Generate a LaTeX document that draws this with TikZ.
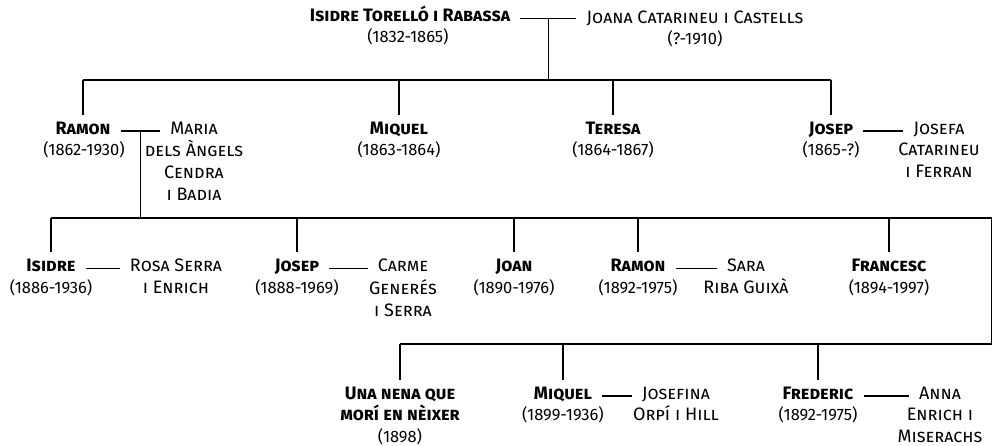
\documentclass[tikz,border=0pt]{standalone}
\usepackage{fontspec}
\setmainfont{Fira Sans}
\newfontfamily\capsfont{Fira Sans}[Letters=SmallCaps]

\begin{document}
\begin{tikzpicture}[x=1pt,y=-1pt,
    person/.style={inner sep=0pt, anchor=base, text height=7pt, text depth=0pt,
      font=\fontsize{18}{21}\selectfont\capsfont\bfseries},
    spouse/.style={person, font=\fontsize{18}{21}\selectfont\capsfont},
    rest/.style={inner sep=0pt, anchor=base, align=center,
      font=\fontsize{18}{22}\selectfont\capsfont},
    years/.style={inner sep=0pt, anchor=base, font=\fontsize{16.5}{21}\selectfont},
    line/.style={line width=1.3pt},
    wed/.style={line, shorten <=10pt, shorten >=10pt},
    drop/.style={line, shorten >=12.5pt}]

        \useasboundingbox (0,0) rectangle (993,446);

        % Isidre and Joana
        \node[person] (isidre) at (410,22) {Isidre Torelló i Rabassa};
        \node[years] (isidre-d) at (408,43) {(1832-1865)};
        \node[spouse] (joana) at (695,24) {Joana Catarineu i Castells};
        \node[years] (joana-d) at (695,45) {(?-1910)};

        % their children
        \node[person] (ramon) at (83,134.5) {Ramon};
        \node[years] (ramon-d) at (84,155.5) {(1862-1930)};
        \node[spouse] (maria) at (194,134.5) {Maria};
        \node[rest] (maria-r) at (194,200.5) {dels Àngels\\Cendra\\i Badia};
        \node[person] (miquel) at (399,134.5) {Miquel};
        \node[years] (miquel-d) at (399,155.5) {(1863-1864)};
        \node[person] (teresa) at (613,134.5) {Teresa};
        \node[years] (teresa-d) at (613,155.5) {(1864-1867)};
        \node[person] (josep) at (831,134.5) {Josep};
        \node[years] (josep-d) at (831,155.5) {(1865-?)};
        \node[spouse] (josefa) at (939,134.5) {Josefa};
        \node[rest] (josefa-r) at (939,177.5) {Catarineu\\i Ferran};

        % Ramon's children
        \node[person] (isidre2) at (51,272) {Isidre};
        \node[years] (isidre2-d) at (51,293.5) {(1886-1936)};
        \node[spouse] (rosa) at (176,272) {Rosa Serra};
        \node[rest] (rosa-r) at (176,294) {i Enrich};
        \node[person] (josep2) at (297,272) {Josep};
        \node[years] (josep2-d) at (297,293.5) {(1888-1969)};
        \node[spouse] (carme) at (403,272) {Carme};
        \node[rest] (carme-r) at (403,316.5) {Generés\\i Serra};
        \node[person] (joan) at (514,272) {Joan};
        \node[years] (joan-d) at (514,293.5) {(1890-1976)};
        \node[person] (ramon2) at (638,272) {Ramon};
        \node[years] (ramon2-d) at (638,293.5) {(1892-1975)};
        \node[spouse] (sara) at (746,272) {Sara};
        \node[rest] (sara-r) at (746,294) {Riba Guixà};
        \node[person] (francesc) at (889,272) {Francesc};
        \node[years] (francesc-d) at (889,293.5) {(1894-1997)};

        \node[person] (nena) at (400,399.5) {Una nena que};
        \node[person] (nena-b) at (400,420.5) {morí en nèixer};
        \node[years] (nena-d) at (400,442) {(1898)};
        \node[person] (miquel2) at (563,399.5) {Miquel};
        \node[years] (miquel2-d) at (563,420.5) {(1899-1936)};
        \node[spouse] (josefina) at (676,399.5) {Josefina};
        \node[rest] (josefina-r) at (676,420.5) {Orpí i Hill};
        \node[person] (frederic) at (818,399.5) {Frederic};
        \node[years] (frederic-d) at (818,420.5) {(1892-1975)};
        \node[spouse] (anna) at (940,399.5) {Anna};
        \node[rest] (anna-r) at (940,442) {Enrich i\\Miserachs};

        % Draw marriages
        \draw[wed] (isidre.east) -- (isidre.east -| joana.west) coordinate[midway] (m0);
        \draw[wed] (ramon) -- (maria) coordinate[midway] (m1);
        \draw[wed] (josep) -- (josefa);
        \draw[wed] (isidre2) -- (rosa);
        \draw[wed] (josep2) -- (carme);
        \draw[wed] (ramon2) -- (sara);
        \draw[wed] (miquel2) -- (josefina);
        \draw[wed] (frederic) -- (anna);

        % Draw bars
        \coordinate (bar0) at (0,80);
        \coordinate (bar1) at (0,218);
        \coordinate (bar2) at (0,344);
        \coordinate (edge) at (991.5,0);
        \draw[line] (m0) -- (m0 |- bar0);
        \draw[line] (ramon |- bar0) -- (josep |- bar0);
        \draw[line] (m1) -- (m1 |- bar1);
        \draw[line] (isidre2 |- bar1) -- (edge |- bar1) -- (edge |- bar2) -- (nena |- bar2);

        % Draw drops
        \foreach \c in {ramon,miquel,teresa,josep}
          \draw[drop] (\c |- bar0) -- (\c.north);
        \foreach \c in {isidre2,josep2,joan,ramon2,francesc}
          \draw[drop] (\c |- bar1) -- (\c.north);
        \foreach \c in {nena,miquel2,frederic}
          \draw[drop] (\c |- bar2) -- (\c.north);

\end{tikzpicture}
\end{document}
